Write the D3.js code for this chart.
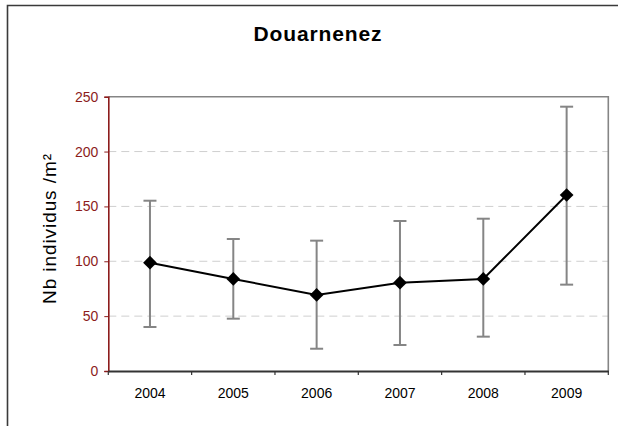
<!DOCTYPE html>
<html><head><meta charset="utf-8">
<script src="https://cdn.jsdelivr.net/npm/d3@7"></script>
<style>html,body{margin:0;padding:0;background:#fff;overflow:hidden;}svg{display:block;}</style>
</head><body>
<script>
const title = "Douarnenez";
const yLabel = "Nb individus /m²";
const years = ["2004","2005","2006","2007","2008","2009"];
const means = [98.7, 83.9, 69.3, 80.5, 83.9, 160.4];
const upper = [155.2, 120.3, 118.8, 136.7, 138.8, 240.9];
const lower = [40.1, 47.7, 20.3, 23.7, 31.3, 78.7];
const yTicks = [0, 50, 100, 150, 200, 250];

const W = 618, H = 426;
const m = {left: 108.3, top: 96.7, right: 608.3, bottom: 371};
const svg = d3.select("body").append("svg").attr("width", W).attr("height", H);
svg.append("rect").attr("width", W).attr("height", H).attr("fill", "#fff");

// outer chart border (top and left edges visible)
svg.append("path").attr("d", `M${W + 5},5.5H7.5V${H + 5}`)
  .attr("fill", "none").attr("stroke", "#3a3a3a").attr("stroke-width", 1.6);

const x = d3.scaleBand().domain(years).range([m.left, m.right]).padding(0);
const y = d3.scaleLinear().domain([0, 250]).range([m.bottom, m.top]);

// gridlines
svg.append("g").selectAll("line").data(yTicks.filter(t => t > 0 && t < 250)).join("line")
  .attr("x1", m.left).attr("x2", m.right).attr("y1", d => y(d)).attr("y2", d => y(d))
  .attr("stroke", "#cfcfcf").attr("stroke-width", 1).attr("stroke-dasharray", "8,5");

// plot area border (top, right)
svg.append("path").attr("d", `M${m.left},${y(250)}H${m.right}V${m.bottom}`)
  .attr("fill", "none").attr("stroke", "#858585").attr("stroke-width", 1.6);

// y axis
const yAxis = svg.append("g").attr("transform", `translate(${m.left},0)`)
  .call(d3.axisLeft(y).tickValues(yTicks).tickSize(4).tickPadding(6).tickFormat(d3.format("d")));
yAxis.select(".domain").attr("stroke", "#8c1c1c").attr("stroke-width", 1.6);
yAxis.selectAll(".tick line").attr("stroke", "#8c1c1c");
yAxis.selectAll("text").attr("fill", "#8c1c1c").attr("font-family", "Liberation Sans, Arial, sans-serif").attr("font-size", 14);

// x axis with ticks at category boundaries
const xAxis = svg.append("g").attr("transform", `translate(0,${m.bottom})`)
  .call(d3.axisBottom(x).tickSize(0).tickPadding(17));
xAxis.select(".domain").attr("stroke", "#333").attr("stroke-width", 1.8);
xAxis.selectAll("text").attr("fill", "#000").attr("font-family", "Liberation Sans, Arial, sans-serif").attr("font-size", 14);
const bounds = years.map(d => x(d)).concat([x(years[years.length-1]) + x.bandwidth()]);
xAxis.selectAll(".bound").data(bounds).join("line").attr("class", "bound")
  .attr("x1", d => d).attr("x2", d => d).attr("y1", 0).attr("y2", 4)
  .attr("stroke", "#333").attr("stroke-width", 1.2);

const cx = d => x(d) + x.bandwidth() / 2;

// error bars
const eb = svg.append("g").attr("stroke", "#858585").attr("stroke-width", 2).attr("fill", "none");
years.forEach((yr, i) => {
  eb.append("line").attr("x1", cx(yr)).attr("x2", cx(yr)).attr("y1", y(upper[i])).attr("y2", y(lower[i]));
  eb.append("line").attr("x1", cx(yr) - 6.5).attr("x2", cx(yr) + 6.5).attr("y1", y(upper[i])).attr("y2", y(upper[i]));
  eb.append("line").attr("x1", cx(yr) - 6.5).attr("x2", cx(yr) + 6.5).attr("y1", y(lower[i])).attr("y2", y(lower[i]));
});

// line
svg.append("path").datum(years.map((yr, i) => [cx(yr), y(means[i])]))
  .attr("d", d3.line()).attr("fill", "none").attr("stroke", "#000").attr("stroke-width", 2);

// diamonds
svg.append("g").selectAll("path").data(years).join("path")
  .attr("transform", (d, i) => `translate(${cx(d)},${y(means[i])})`)
  .attr("d", d3.symbol(d3.symbolDiamond2, 120)).attr("fill", "#000");

// title
svg.append("text").attr("x", 317.5).attr("y", 41).attr("text-anchor", "middle")
  .attr("font-family", "Liberation Sans, Arial, sans-serif").attr("font-weight", "bold").attr("font-size", 21)
  .attr("textLength", 128).attr("lengthAdjust", "spacing")
  .text(title);

// y label
svg.append("text").attr("transform", "translate(55.5,229) rotate(-90)").attr("text-anchor", "middle")
  .attr("font-family", "Liberation Sans, Arial, sans-serif").attr("font-size", 19)
  .attr("textLength", 150).attr("lengthAdjust", "spacing")
  .text(yLabel);
</script>
</body></html>
